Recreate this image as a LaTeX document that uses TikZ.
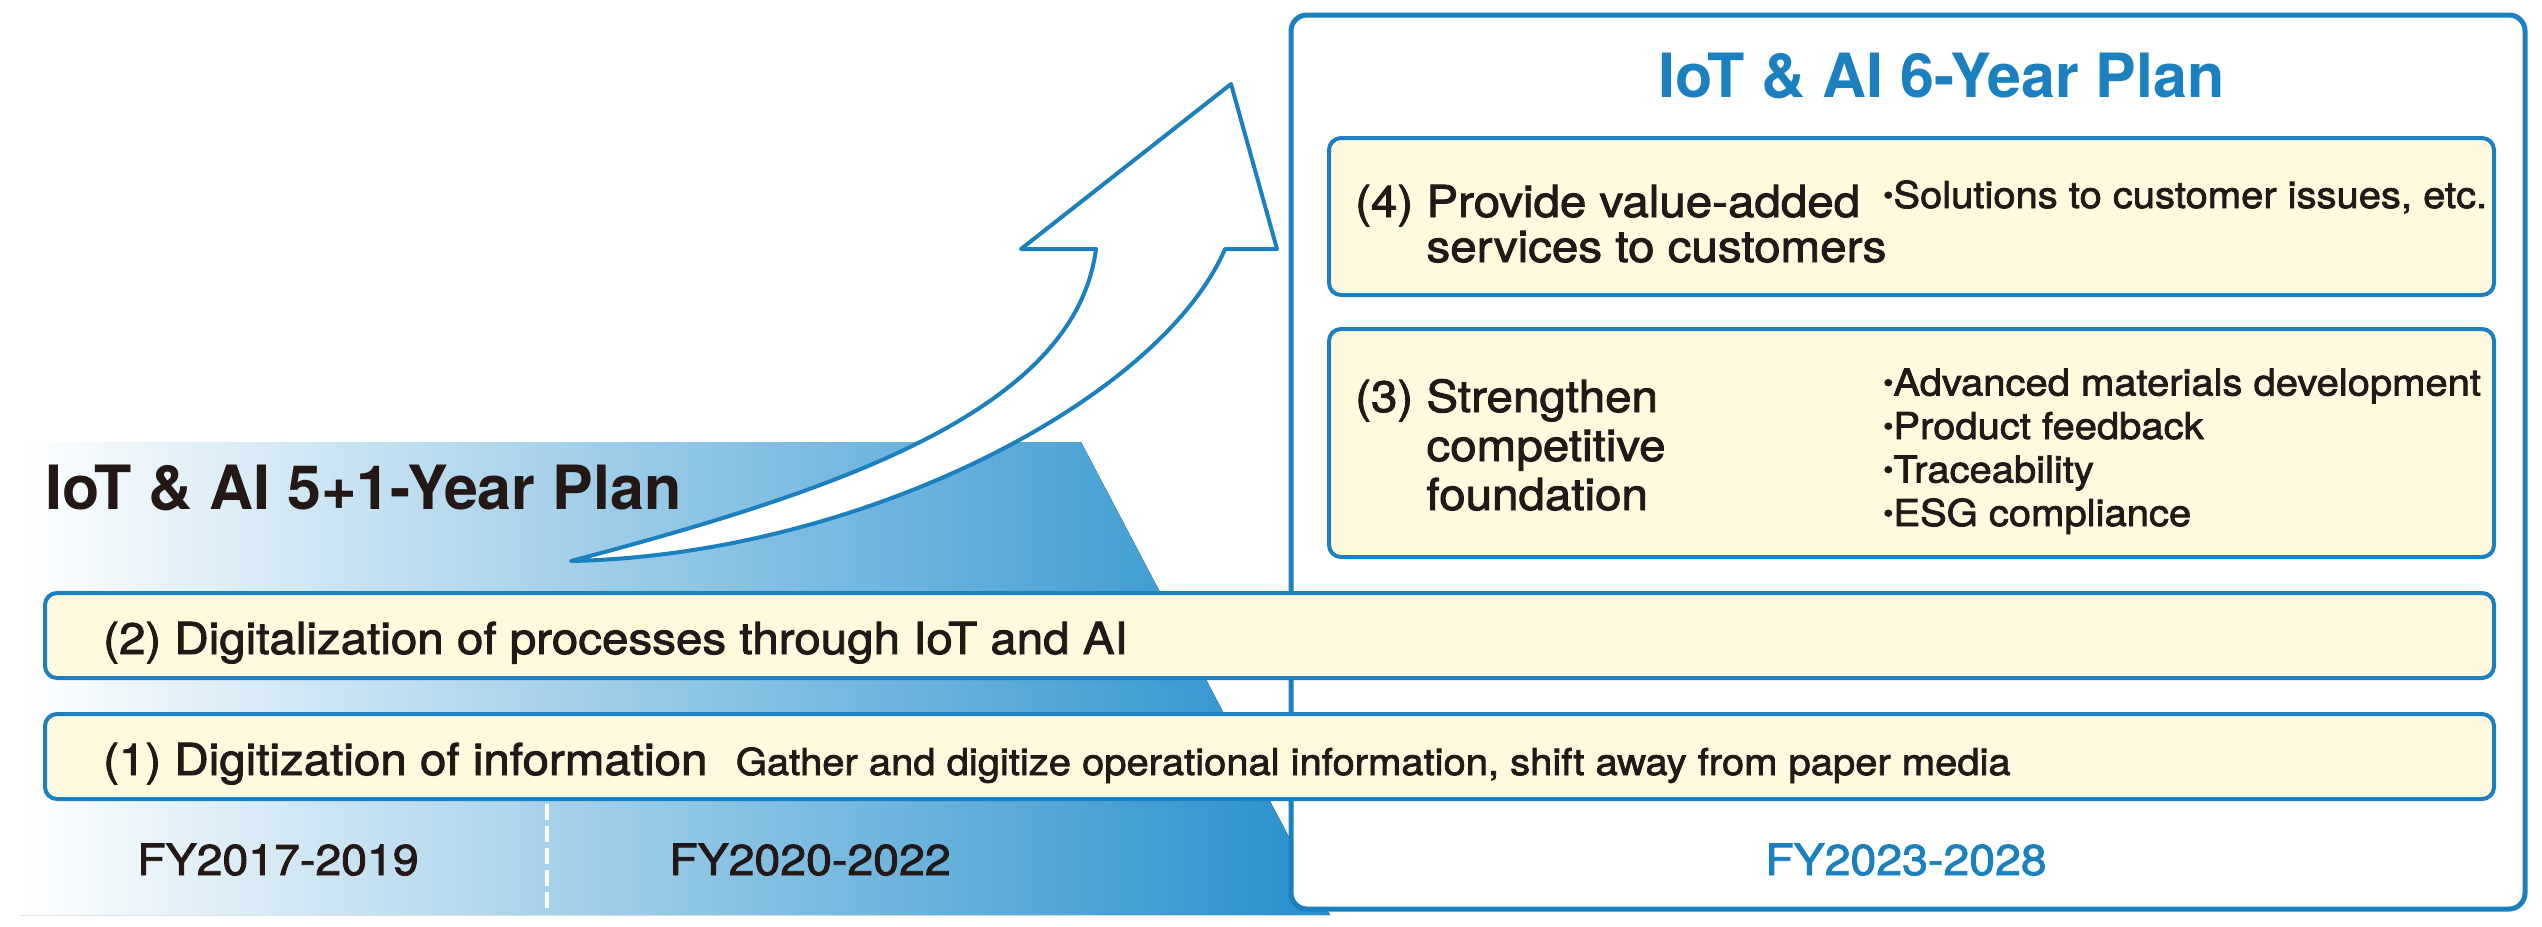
\documentclass[tikz,border=0pt]{standalone}
\usepackage{fontspec}
\setmainfont{TeX Gyre Heros}
\newfontfamily\medfont[FakeBold=2, FakeStretch=1.08]{TeX Gyre Heros}
\usetikzlibrary{positioning}
\definecolor{planblue}{RGB}{26,128,192}
\definecolor{planbg}{RGB}{253,250,221}
\definecolor{gradblue}{RGB}{38,143,204}
\definecolor{plantext}{RGB}{35,24,21}
\newcommand{\bul}{\raisebox{3.5pt}{\fontsize{27}{27}\selectfont\textbullet}}
\tikzset{
  planbox/.style={draw=planblue, line width=4pt, fill=planbg, rounded corners=12pt, inner sep=0pt},
  bigtext/.style={font=\medfont\fontsize{44}{44}\selectfont, text=plantext, inner sep=0pt},
  smalltext/.style={font=\medfont\fontsize{37}{37}\selectfont, text=plantext, inner sep=0pt},
  yeartext/.style={font=\medfont\fontsize{43}{43}\selectfont, text=plantext, inner sep=0pt},
  titletext/.style={font=\bfseries\fontsize{61}{61}\selectfont, text=plantext, inner sep=0pt}
}

\begin{document}
\begin{tikzpicture}[x=1pt,y=-1pt]
\useasboundingbox (0,0) rectangle (2542,926);
\fill[left color=white, right color=gradblue] (20,442) -- (1081,442) -- (1330,915) -- (20,915) -- cycle;
\draw[planblue, line width=4pt, fill=white, line join=round]
  (571,561) .. controls (840,490) and (1075,410) .. (1096,249) -- (1021,249) -- (1231,84)
  -- (1277,249) -- (1225,249) .. controls (1160,400) and (860,555) .. (571,561) -- cycle;
\node[titletext, anchor=base west] (title51) at (45,509) {IoT \& AI 5+1-Year Plan};

\node[draw=planblue, line width=5pt, fill=white, rounded corners=16pt, minimum width=1234pt, minimum height=894pt] (plan6) at (1908,462) {};
\node[titletext, text=planblue, anchor=base west] (title6) at (1658,97) {IoT \& AI 6-Year Plan};

\node[planbox, minimum width=1165pt, minimum height=157pt] (box4) at (1911.5,216.5) {};
\node[bigtext, anchor=base west] (t4a) at (1355,217) {(4) Provide value-added};
\node[bigtext, anchor=base west] (t4b) at (1355,262) {\phantom{(4)\ }services to customers};
\node[smalltext, anchor=base west] (t4c) at (1883,208) {\bul Solutions to customer issues, etc.};

\node[planbox, minimum width=1165pt, minimum height=228pt] (box3) at (1911.5,443) {};
\node[bigtext, anchor=base west] (t3a) at (1355,412) {(3) Strengthen};
\node[bigtext, anchor=base west] (t3b) at (1355,461) {\phantom{(3)\ }competitive};
\node[bigtext, anchor=base west] (t3c) at (1355,510) {\phantom{(3)\ }foundation};
\foreach \txt [count=\i] in {Advanced materials development, Product feedback, Traceability, ESG compliance}
  \node[smalltext, anchor=base west] (b3-\i) at (1883,352+43.5*\i) {\bul\txt};

\node[planbox, minimum width=2449pt, minimum height=85pt] (box2) at (1269.5,635.5) {};
\node[bigtext, anchor=base west] (t2) at (103,654) {(2) Digitalization of processes through IoT and AI};

\node[planbox, minimum width=2449pt, minimum height=85pt] (box1) at (1269.5,756.5) {};
\node[bigtext, anchor=base west] (t1) at (103,775) {(1) Digitization of information};
\node[smalltext, anchor=base west] (t1b) at ([xshift=28pt]t1.base east) {Gather and digitize operational information, shift away from paper media};

\coordinate (divtop) at (547,804);
\coordinate (divbot) at (547,914);
\draw[white, line width=4pt, dash pattern=on 16pt off 6pt] (divtop) -- (divbot);
\node[yeartext, anchor=base] (fy1) at (278,875) {FY2017-2019};
\node[yeartext, anchor=base] (fy2) at (810,875) {FY2020-2022};
\node[yeartext, anchor=base, text=planblue] (fy3) at (1906,875) {FY2023-2028};
\end{tikzpicture}
\end{document}
